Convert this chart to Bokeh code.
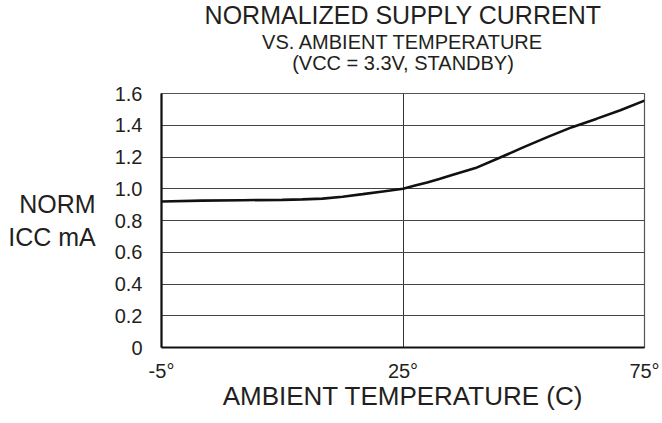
import numpy as np
from bokeh.plotting import figure
from bokeh.models import FixedTicker, Range1d, Title
from bokeh.embed import file_html
from bokeh.resources import INLINE

# ---- data ----
temps = [-5, 0, 5, 10, 12.5, 15, 17.5, 20, 22.5, 25, 27.5, 30, 32.5, 35, 40, 45,
         50, 55, 60, 65, 70, 75]
icc = [0.92, 0.925, 0.928, 0.93, 0.933, 0.938, 0.95, 0.966, 0.983, 1.0, 1.02,
       1.04, 1.062, 1.085, 1.13, 1.195, 1.262, 1.327, 1.388, 1.44, 1.495, 1.555]
x_tick_temps = [-5, 25, 75]
x_tick_labels = ["-5°", "25°", "75°"]
y_ticks = [0, 0.2, 0.4, 0.6, 0.8, 1.0, 1.2, 1.4, 1.6]
y_tick_labels = ["0", "0.2", "0.4", "0.6", "0.8", "1.0", "1.2", "1.4", "1.6"]
title_lines = ["NORMALIZED SUPPLY CURRENT", "VS. AMBIENT TEMPERATURE", "(VCC = 3.3V, STANDBY)"]
y_label = "NORM\nICC mA"
x_label = "AMBIENT TEMPERATURE (C)"

# the temperature axis is piecewise: -5..25 and 25..75 take equal widths
def tpos(t):
    return np.interp(t, x_tick_temps, [0, 1, 2])

FONT = "Liberation Sans"
TXT = "#231f20"

p = figure(width=660, height=421, output_backend="svg", toolbar_location=None,
           x_range=Range1d(0, 2), y_range=Range1d(0, 1.6),
           min_border_left=161, min_border_right=16, min_border_top=93,
           min_border_bottom=74)
p.outline_line_color = "#555555"
p.outline_line_width = 1.2

p.line(tpos(np.array(temps)), icc, line_color="#111111", line_width=2.6)

# axes
xt = [float(v) for v in tpos(np.array(x_tick_temps))]
p.xaxis.ticker = FixedTicker(ticks=xt)
p.xaxis.major_label_overrides = {v: s for v, s in zip(xt, x_tick_labels)}
p.yaxis.ticker = FixedTicker(ticks=y_ticks)
p.yaxis.major_label_overrides = {v: s for v, s in zip(y_ticks, y_tick_labels)}
for ax in (p.xaxis[0], p.yaxis[0]):
    ax.axis_line_color = "#111111"
    ax.axis_line_width = 2.2
    ax.major_tick_line_color = None
    ax.minor_tick_line_color = None
    ax.major_tick_out = 0
    ax.major_tick_in = 0
    ax.major_label_text_font = FONT
    ax.major_label_text_font_size = "20px"
    ax.major_label_text_color = TXT
    ax.axis_label_text_font = FONT
    ax.axis_label_text_font_style = "normal"
    ax.axis_label_text_color = TXT
p.xaxis.major_label_standoff = 12
p.yaxis.major_label_standoff = 19
p.xaxis.axis_label = x_label
p.xaxis.axis_label_text_font_size = "26px"
p.xaxis.axis_label_standoff = -4
p.yaxis.axis_label = y_label
p.yaxis.axis_label_orientation = "horizontal"
p.yaxis.axis_label_text_font_size = "25px"
p.yaxis.axis_label_text_align = "center"
p.yaxis.axis_label_standoff = 16

# grids
p.xgrid.ticker = FixedTicker(ticks=[1.0])
p.xgrid.grid_line_color = "#333333"
p.xgrid.grid_line_width = 1
p.ygrid.ticker = FixedTicker(ticks=y_ticks[1:-1])
p.ygrid.grid_line_color = "#444444"
p.ygrid.grid_line_width = 1

# spacer between frame and the title block
p.add_layout(Title(text=" ", text_font_size="1px", standoff=24.4), "above")
# title lines (last added sits on top)
for txt, size, so in [(title_lines[2], "20px", -16.4), (title_lines[1], "20px", 9.8),
                      (title_lines[0], "25px", -10)]:
    p.add_layout(Title(text=txt, align="center", text_font=FONT, text_font_size=size,
                       text_font_style="normal", text_color=TXT, standoff=so,
                       offset=0), "above")

open("out.html", "w").write(file_html(p, INLINE))
